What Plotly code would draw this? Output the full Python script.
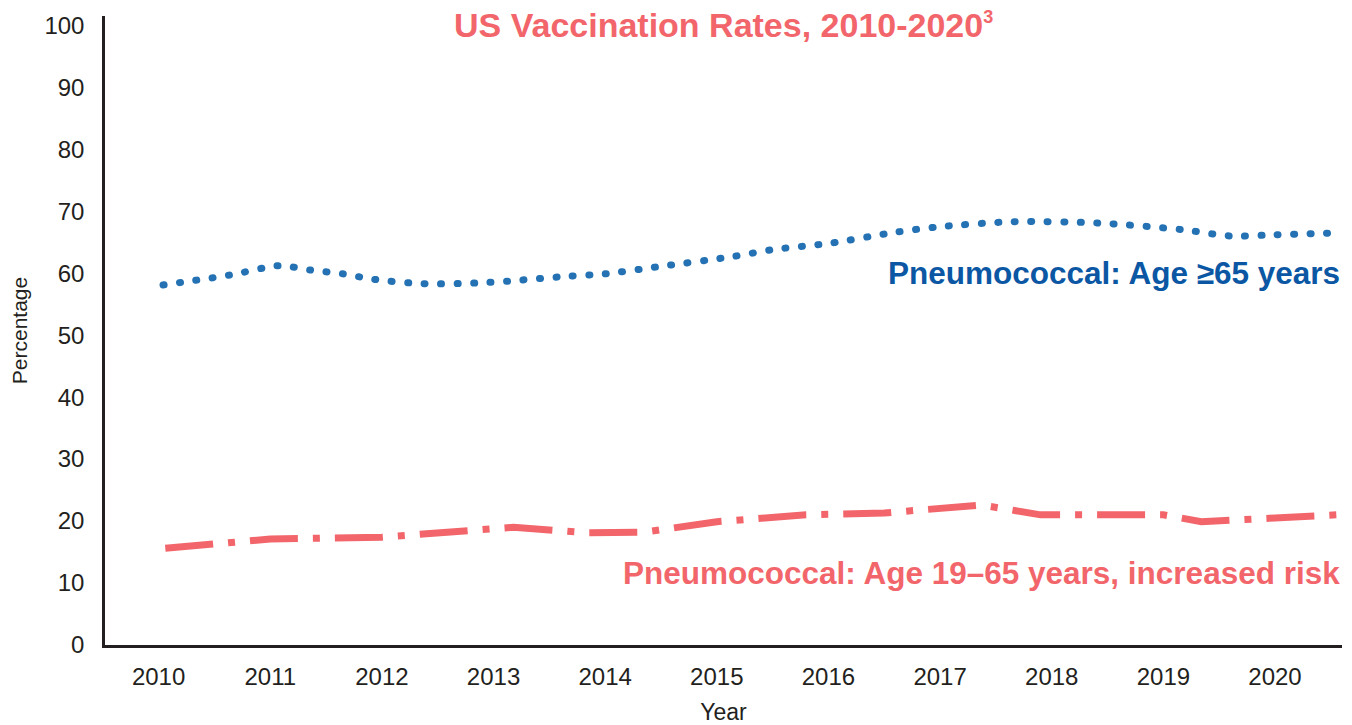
import plotly.graph_objects as go

# Data
years_65 = [2010.04, 2010.64, 2011.08, 2011.36, 2011.65, 2011.93, 2012.37, 2012.95,
            2013.66, 2014.0, 2014.5, 2015.15, 2015.5, 2016.0, 2016.6, 2017.0,
            2017.66, 2018.41, 2019.18, 2019.6, 2020.0, 2020.55]
rate_65 = [58.1, 59.7, 61.2, 60.5, 59.9, 59.0, 58.3, 58.5,
           59.5, 59.9, 61.1, 62.7, 63.8, 64.8, 66.6, 67.5,
           68.3, 68.1, 67.0, 66.0, 66.2, 66.5]

years_risk = [2010.06, 2011.0, 2012.0, 2013.18, 2013.85, 2014.35, 2015.0, 2015.8,
              2016.5, 2017.0, 2017.37, 2017.9, 2019.0, 2019.34, 2020.0, 2020.55]
rate_risk = [15.6, 17.1, 17.4, 19.0, 18.1, 18.2, 19.9, 21.0,
             21.3, 21.9, 22.6, 21.0, 21.0, 19.9, 20.4, 21.0]

year_ticks = list(range(2010, 2021))
pct_ticks = list(range(0, 101, 10))

RED = "#f2666b"
BLUE = "#2472b3"
BLUE_TXT = "#0b57a4"
FONT = "Liberation Sans, Arial, sans-serif"
INK = "#231f20"

fig = go.Figure()
fig.add_trace(go.Scatter(
    x=years_65, y=rate_65, mode="lines",
    line=dict(color=BLUE, width=7, dash="1px,15.5px", shape="spline", smoothing=0.8),
    showlegend=False, hoverinfo="skip"))
fig.add_trace(go.Scatter(
    x=years_risk, y=rate_risk, mode="lines",
    line=dict(color=RED, width=7, dash="48px,15px,7px,15px"),
    showlegend=False, hoverinfo="skip"))

fig.add_annotation(text="Pneumococcal: Age ≥65 years", xref="paper", yref="y",
                   x=1.0, y=60.0, xanchor="right", yanchor="middle", showarrow=False,
                   font=dict(family=FONT, size=31.5, color=BLUE_TXT, weight="bold"))
fig.add_annotation(text="Pneumococcal: Age 19–65 years, increased risk", xref="paper", yref="y",
                   x=1.0, y=11.6, xanchor="right", yanchor="middle", showarrow=False,
                   font=dict(family=FONT, size=31.5, color=RED, weight="bold"))
fig.add_annotation(text="US Vaccination Rates, 2010-2020<sup><span style='font-size:18px'>3</span></sup>",
                   xref="paper", yref="paper",
                   x=0.5, y=0.985, xanchor="center", yanchor="middle", showarrow=False,
                   font=dict(family=FONT, size=34, color=RED, weight="bold"))

fig.update_layout(
    width=1352, height=725,
    margin=dict(l=105, r=10, t=16, b=80, autoexpand=False),
    paper_bgcolor="white", plot_bgcolor="white",
    font=dict(family=FONT, size=24, color=INK),
    xaxis=dict(range=[2009.52, 2020.6], tickvals=year_ticks, ticktext=[str(y) for y in year_ticks],
               showgrid=False, zeroline=False, showline=True, linecolor=INK, linewidth=2.5,
               ticks="", ticklabelstandoff=8, automargin=False,
               title=dict(text="Year", font=dict(size=23), standoff=24)),
    yaxis=dict(range=[0, 101.5], tickvals=pct_ticks,
               showgrid=False, zeroline=False, showline=True, linecolor=INK, linewidth=2.5,
               ticks="", ticklabelstandoff=13, automargin=False,
               title=dict(text="Percentage", font=dict(size=21), standoff=12)),
)

post = """
document.body.style.margin = '0';
document.body.style.padding = '0';
function fixCaps(){
  var t = document.querySelectorAll('.scatterlayer .trace');
  if (t.length) {
    t[0].querySelectorAll('path.js-line').forEach(function(p){p.style.strokeLinecap='round';});
  }
}
fixCaps();
var gd = document.getElementsByClassName('plotly-graph-div')[0];
if (gd && gd.on) { gd.on('plotly_afterplot', fixCaps); }
"""
fig.write_html("out.html", post_script=post, config={"displayModeBar": False})
